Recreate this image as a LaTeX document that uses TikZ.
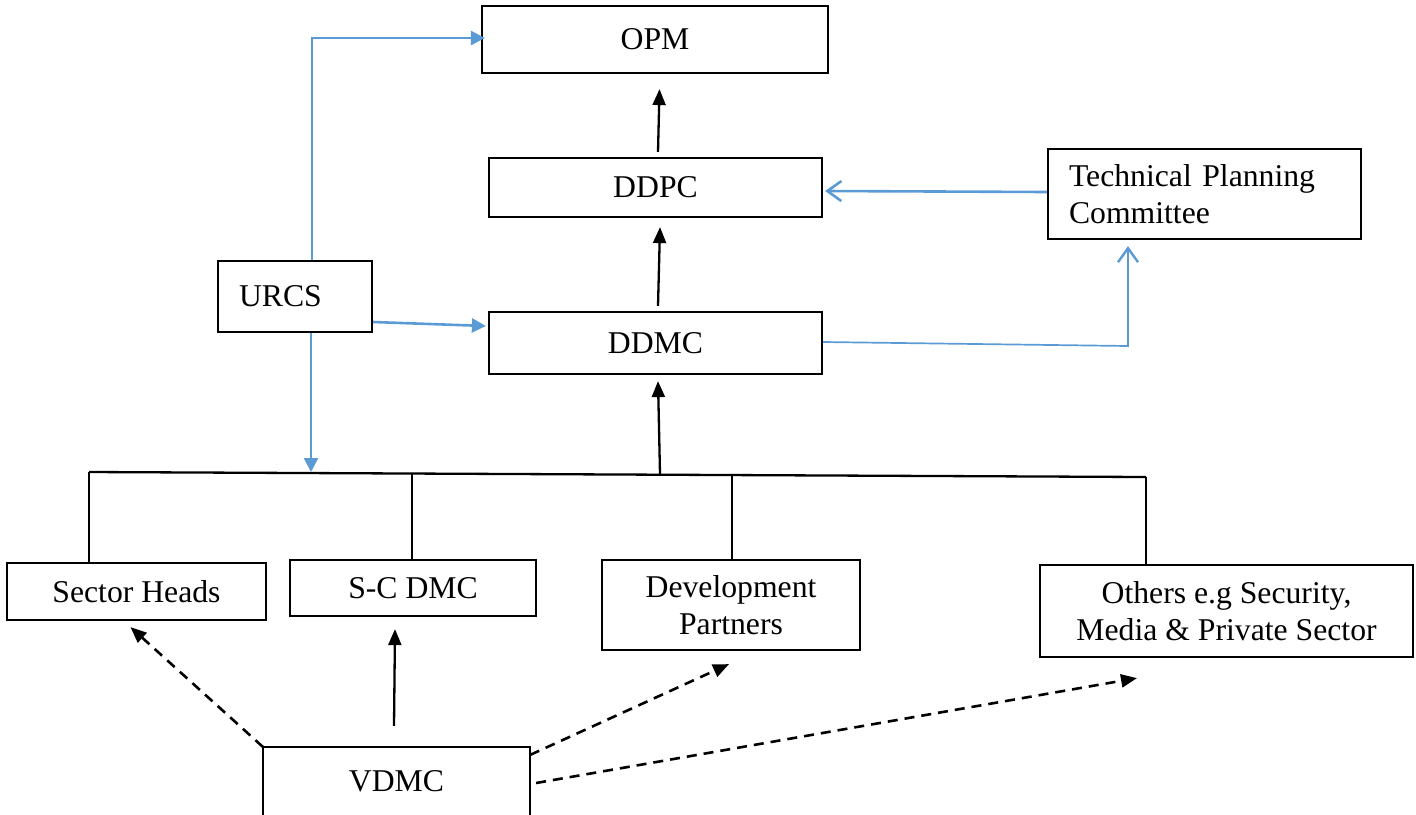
\documentclass[tikz,border=0pt]{standalone}
\usepackage{fontspec}
\setmainfont{Liberation Serif}
\usetikzlibrary{arrows.meta,calc}
\definecolor{lineblue}{HTML}{5B9BD5}
\begin{document}
\begin{tikzpicture}[x=0.5pt,y=-0.5pt,
  txt/.style={font=\fontsize{15.85}{18.3}\selectfont},
  box/.style={draw, line width=1.1pt, inner sep=0pt, align=center, txt},
  blk/.style={line width=1.15pt, draw=black},
  blkarr/.style={blk, -{Triangle[length=8pt,width=6.5pt]}},
  dasharr/.style={line width=1.3pt, draw=black, dash pattern=on 5pt off 3.5pt, -{Triangle[length=8pt,width=6.5pt]}},
  bluearr/.style={line width=1.3pt, draw=lineblue, -{Triangle[length=7pt,width=7pt]}},
  blueopen/.style={line width=1.3pt, draw=lineblue, -{Straight Barb[length=7pt,width=10pt]}},
  bluethin/.style={line width=0.85pt, draw=lineblue, -{Straight Barb[length=7pt,width=10pt,line width=1.2pt]}}
]
\useasboundingbox (0,0) rectangle (1416,814);

% boxes
\node[box, minimum width=173pt, minimum height=33.5pt] (opm) at (655,39.5) {OPM};
\node[box, minimum width=166.5pt, minimum height=29.5pt] (ddpc) at (655.5,187.5) {DDPC};
\node[box, minimum width=166.5pt, minimum height=31pt] (ddmc) at (655.5,343) {DDMC};
\node[box, text width=135.5pt, inner xsep=10.5pt, minimum height=45pt, align=left] (tpc) at (1204.5,194) {\raisebox{-1.5pt}{Technical Planning}\\\raisebox{-1.5pt}{Committee}};
\node[box, text width=56pt, inner xsep=10.5pt, minimum height=35.5pt, align=left] (urcs) at (295,296.5) {URCS};
\node[box, minimum width=129.5pt, minimum height=28.5pt] (sh) at (136.5,591.5) {Sector Heads};
\node[box, minimum width=123pt, minimum height=28pt] (scdmc) at (413,588) {S-C DMC};
\node[box, minimum width=129pt, minimum height=45pt] (dev) at (731,605) {\raisebox{-1.5pt}{Development}\\\raisebox{-1.5pt}{Partners}};
\node[box, minimum width=186.5pt, minimum height=46pt] (others) at (1226.5,611) {\raisebox{-1.5pt}{Others e.g Security,}\\\raisebox{-1.5pt}{Media \& Private Sector}};
\node[box, draw=none, minimum width=132.5pt, minimum height=33pt] (vdmc) at (396.5,781) {VDMC};
\draw[line width=1.1pt] (vdmc.south west) -- (vdmc.north west) -- (vdmc.north east) -- (vdmc.south east);

% black hierarchy arrows
\draw[blkarr] ($(ddpc.north)+(2.5,-5)$) -- ($(opm.south)+(4.5,15)$);
\draw[blkarr] ($(ddmc.north)+(2.5,-5)$) -- ($(ddpc.south)+(4.5,9)$);

% bus
\coordinate (busL) at (89,472);
\coordinate (busR) at (1146,477);
\coordinate (tapU) at (311,472);
\coordinate (tap2) at (412,472.5);
\coordinate (tapC) at (660,474.3);
\coordinate (tap3) at (732,475);
\draw[blk] (busL) -- (busR);
\draw[blk] (busL) -- (busL |- sh.north);
\draw[blk] (tap2) -- (tap2 |- scdmc.north);
\draw[blk] (tap3) -- (tap3 |- dev.north);
\draw[blk] (busR) -- (busR |- others.north);
\draw[blkarr] (tapC) -- ($(ddmc.south)+(2.5,6)$);

% blue connectors
\draw[bluearr] ($(urcs.north)+(17,0)$) |- ($(opm.west)+(4,-1.5)$);
\draw[bluearr] ($(urcs.east)+(0,25.5)$) -- ($(ddmc.west)+(-2,-17)$);
\draw[bluearr] ($(urcs.south)+(16,0)$) -- (tapU);
\draw[blueopen] ($(tpc.west)+(0,-2)$) -- ($(ddpc.east)+(2,3.5)$);
\coordinate (tpcturn) at (1128,346);
\draw[bluethin] ($(ddmc.east)+(0,-1)$) -- (tpcturn) -- ($(tpcturn |- tpc.south)+(0,6)$);

% VDMC connectors
\draw[dasharr] (vdmc.north west) -- ($(sh.south)+(-6,6)$);
\draw[blkarr] ($(vdmc.north)+(-2.5,-21)$) -- ($(scdmc.south)+(-18,12)$);
\draw[dasharr] ($(vdmc.north east)+(0,8)$) -- ($(dev.south)+(-2,13)$);
\draw[dasharr] ($(vdmc.east)+(6,2)$) -- ($(others.south)+(-89.5,20)$);
\end{tikzpicture}
\end{document}
